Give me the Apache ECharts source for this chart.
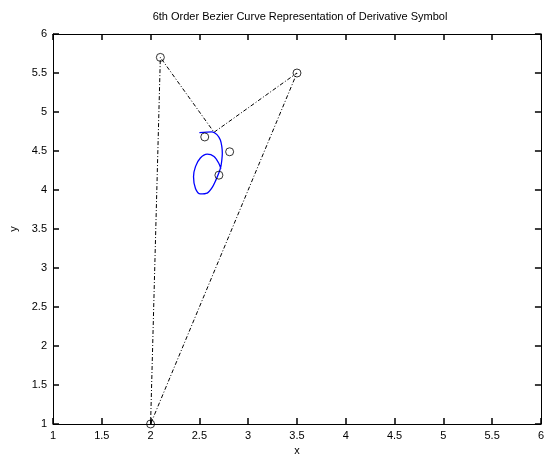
<!DOCTYPE html>
<html>
<head>
<meta charset="utf-8">
<script src="https://cdn.jsdelivr.net/npm/echarts@6/dist/echarts.min.js"></script>
<style>
  html, body { margin: 0; padding: 0; background: #fff; }
  #chart { width: 547px; height: 462px; background: #fff; }
</style>
</head>
<body>
<div id="chart"></div>
<script>
// control points (circles)
const ctrlX = [2, 2.1, 3.5, 2.555, 2.81, 2.70]
const ctrlY = [1, 5.7, 5.5, 4.68, 4.49, 4.19]

// dash-dot control polygon
const polyX = [2, 2.1, 2.65, 3.5, 2]
const polyY = [1, 5.7, 4.74, 5.5, 1]

// blue bezier curve
const curveX = [2.50, 2.63, 2.68, 2.715, 2.73, 2.735, 2.73, 2.72, 2.70, 2.67, 2.63, 2.58, 2.51, 2.46, 2.44, 2.46, 2.51, 2.58, 2.65, 2.70, 2.72]
const curveY = [4.735, 4.745, 4.71, 4.64, 4.555, 4.47, 4.385, 4.30, 4.22, 4.13, 4.03, 3.96, 3.95, 4.02, 4.17, 4.30, 4.41, 4.46, 4.43, 4.34, 4.27]

const zip = (xs, ys) => xs.map((x, i) => [x, ys[i]])

const chart = echarts.init(document.getElementById('chart'))

const font = { fontFamily: 'Liberation Sans, Arial, sans-serif', fontSize: 11, color: '#000' }

// fresh object per axis, matlab style box with inward ticks
const makeAxis = (extra) => Object.assign({
  type: 'value',
  min: 1,
  max: 6,
  interval: 0.5,
  splitLine: { show: false },
  axisLine: { show: true, onZero: false, lineStyle: { color: '#000' } },
  axisTick: { show: true, inside: true, length: 6, lineStyle: { color: 'black', width: 1.5 } },
}, extra)

const option = {
  animation: false,
  title: {
    text: '6th Order Bezier Curve Representation of Derivative Symbol',
    left: 295,
    textAlign: 'center',
    top: 6,
    textStyle: { ...font, fontWeight: 'normal' },
  },
  grid: { left: 49, top: 34, width: 493, height: 390 },
  xAxis: [
    makeAxis({
      position: 'bottom',
      name: 'x',
      nameLocation: 'middle',
      nameGap: 14,
      nameTextStyle: font,
      axisLabel: { ...font, margin: 6 },
    }),
    makeAxis({
      position: 'top',
      axisLabel: { show: false },
    }),
  ],
  yAxis: [
    makeAxis({
      position: 'left',
      name: 'y',
      nameLocation: 'middle',
      nameGap: 34,
      nameTextStyle: font,
      axisLabel: { ...font, margin: 6 },
    }),
    makeAxis({
      position: 'right',
      axisLabel: { show: false },
    }),
  ],
  series: [
    {
      name: 'polygon',
      type: 'line',
      data: zip(polyX, polyY),
      symbol: 'none',
      lineStyle: { color: '#000', width: 1, type: [4, 2, 1, 2] },
    },
    {
      name: 'curve',
      type: 'line',
      data: zip(curveX, curveY),
      symbol: 'none',
      smooth: 0.3,
      lineStyle: { color: '#0000ff', width: 1.3 },
      z: 3,
    },
    {
      name: 'control points',
      type: 'scatter',
      data: zip(ctrlX, ctrlY),
      symbol: 'circle',
      symbolSize: 8,
      itemStyle: { color: 'rgba(0,0,0,0)', borderColor: '#000', borderWidth: 1 },
      z: 4,
    },
  ],
}

chart.setOption(option)
</script>
</body>
</html>
